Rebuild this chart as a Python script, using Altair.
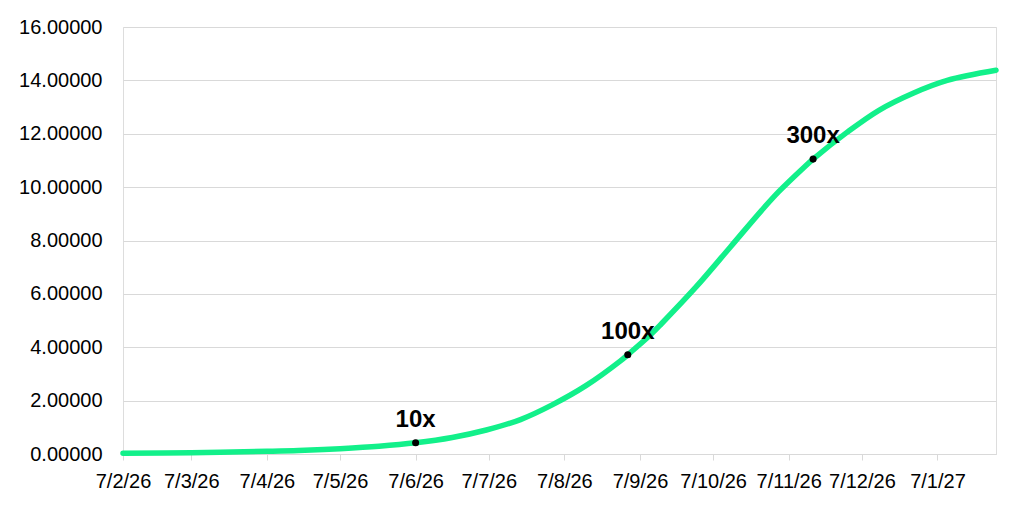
import altair as alt
import pandas as pd

# Curve values
dates = ["2026-02-07", "2026-03-07", "2026-04-07", "2026-04-20", "2026-05-07",
         "2026-05-23", "2026-06-07", "2026-06-22", "2026-07-06", "2026-07-20",
         "2026-08-02", "2026-08-16", "2026-08-30", "2026-09-02", "2026-09-11",
         "2026-09-16", "2026-09-30", "2026-10-14", "2026-10-27", "2026-11-03",
         "2026-11-13", "2026-11-17", "2026-12-01", "2026-12-14", "2026-12-28",
         "2027-01-11", "2027-01-31"]
values = [0.03, 0.05, 0.10, 0.13, 0.20, 0.29, 0.42, 0.62, 0.90, 1.29,
          1.84, 2.57, 3.49, 3.72, 4.44, 4.90, 6.26, 7.75, 9.14, 9.84,
          10.72, 11.05, 12.06, 12.88, 13.52, 14.00, 14.38]

# Annotated points
mark_dates = ["2026-06-07", "2026-09-02", "2026-11-17"]
mark_values = [0.42, 3.72, 11.05]
mark_labels = ["10x", "100x", "300x"]

# Axis tick dates (7th of each month)
tick_dates = [(2026, m, 7) for m in range(2, 13)] + [(2027, 1, 7)]

df = pd.DataFrame({"date": dates, "value": values})
dm = pd.DataFrame({"date": mark_dates, "value": mark_values, "label": mark_labels})

tick_vals = [alt.DateTime(year=y, month=m, date=d) for (y, m, d) in tick_dates]

x_enc = alt.X(
    "date:T",
    scale=alt.Scale(domain=[alt.DateTime(year=2026, month=2, date=7),
                            alt.DateTime(year=2027, month=1, date=31)], nice=False),
    axis=alt.Axis(values=tick_vals, format="%-d/%-m/%y", title=None, grid=False,
                  domain=True, domainColor="#d9d9d9", ticks=True, tickColor="#d9d9d9",
                  tickSize=6, labelPadding=11, labelFontSize=20,
                  labelFont="Liberation Sans", labelColor="#000000",
                  labelFlush=False, labelOverlap=False),
)
y_enc = alt.Y(
    "value:Q",
    scale=alt.Scale(domain=[0, 16], nice=False),
    axis=alt.Axis(values=[0, 2, 4, 6, 8, 10, 12, 14, 16], format=".5f", title=None,
                  grid=True, gridColor="#d9d9d9", gridWidth=1.2, domain=False,
                  ticks=False, labelPadding=21, labelFontSize=20,
                  labelFont="Liberation Sans", labelColor="#000000"),
)

line = alt.Chart(df).mark_line(
    color="#12F08A", strokeWidth=5.5, interpolate="catmull-rom", strokeCap="round"
).encode(x=x_enc, y=y_enc)

pts = alt.Chart(dm).mark_circle(color="#000000", size=50, opacity=1).encode(
    x="date:T", y="value:Q"
)

txt = alt.Chart(dm).mark_text(
    font="Liberation Sans", fontWeight="bold", fontSize=24, color="#000000",
    align="center", baseline="alphabetic", dy=-16
).encode(x="date:T", y="value:Q", text="label:N")

chart = alt.layer(line, pts, txt).properties(
    width=873, height=427,
    autosize=alt.AutoSizeParams(type="none"),
    padding={"left": 115, "top": 19, "right": 20, "bottom": 50},
).configure_view(stroke=None).configure(background="#ffffff")

chart.save("out.html", embed_options={"renderer": "svg", "actions": False})
